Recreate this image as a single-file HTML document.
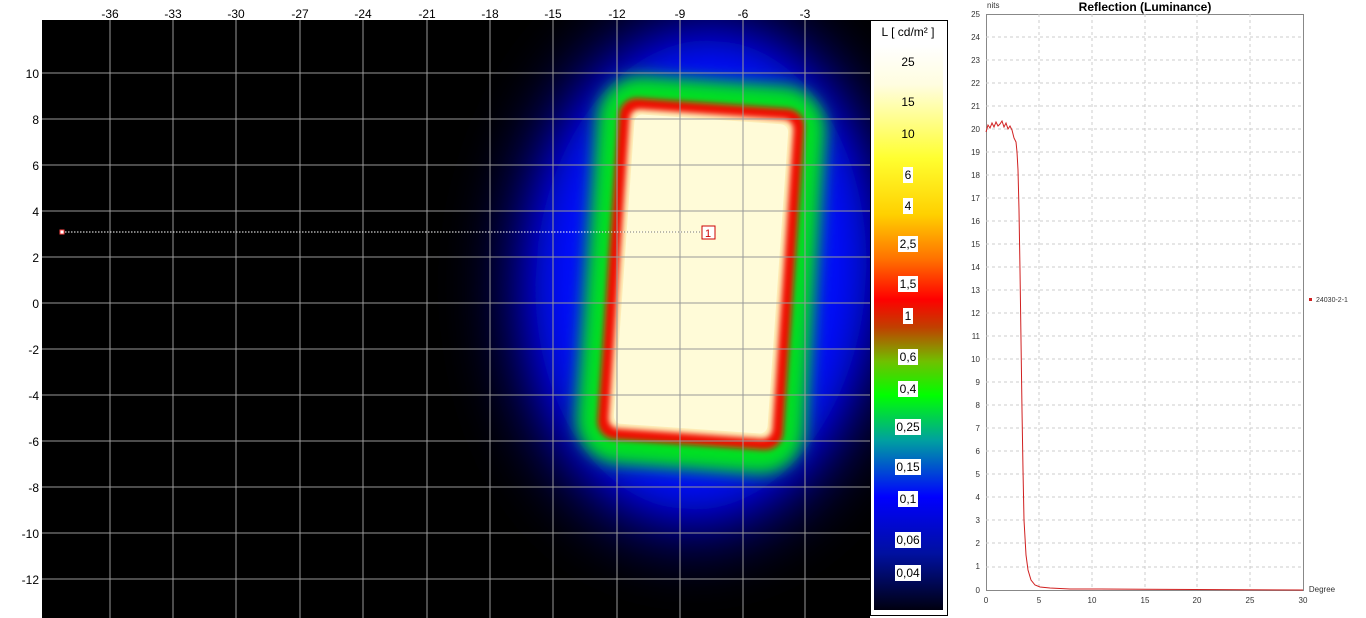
<!DOCTYPE html>
<html><head><style>
body{margin:0;width:1366px;height:618px;background:#fff;overflow:hidden;font-family:"Liberation Sans",sans-serif}
svg{position:absolute;left:0;top:0}
</style></head><body>
<svg width="1366" height="618" viewBox="0 0 1366 618">
<defs>
<filter id="b0" x="-50%" y="-50%" width="200%" height="200%"><feGaussianBlur stdDeviation="30"/></filter>
<filter id="b1" x="-50%" y="-50%" width="200%" height="200%"><feGaussianBlur stdDeviation="22"/></filter>
<filter id="b2" x="-50%" y="-50%" width="200%" height="200%"><feGaussianBlur stdDeviation="8"/></filter>
<filter id="b3" x="-50%" y="-50%" width="200%" height="200%"><feGaussianBlur stdDeviation="3"/></filter>
<linearGradient id="cb" x1="0" y1="0" x2="0" y2="1">
<stop offset="0" stop-color="#ffffff"/>
<stop offset="0.07" stop-color="#fffde0"/>
<stop offset="0.2" stop-color="#ffff30"/>
<stop offset="0.3" stop-color="#ffd000"/>
<stop offset="0.38" stop-color="#ff7000"/>
<stop offset="0.45" stop-color="#ff0000"/>
<stop offset="0.5" stop-color="#c04000"/>
<stop offset="0.56" stop-color="#70c000"/>
<stop offset="0.62" stop-color="#00ff00"/>
<stop offset="0.7" stop-color="#00a0a0"/>
<stop offset="0.8" stop-color="#0000ff"/>
<stop offset="0.9" stop-color="#0010a0"/>
<stop offset="1" stop-color="#000010"/>
</linearGradient>
<clipPath id="ic"><rect x="42" y="20" width="828" height="598"/></clipPath>
</defs>
<rect x="42" y="20" width="828" height="598" fill="#000"/>
<g clip-path="url(#ic)">
<g transform="rotate(4 701 274)">
<ellipse cx="701" cy="275" rx="200" ry="275" fill="#000080" filter="url(#b0)"/>
<ellipse cx="701" cy="275" rx="165" ry="235" fill="#0010ff" filter="url(#b1)"/>
<rect x="586" y="80" width="230" height="390" rx="45" fill="#00e020" filter="url(#b2)"/>
<rect x="608" y="103" width="186" height="342" rx="18" fill="#f01000" filter="url(#b3)"/>
<rect x="619" y="114" width="164" height="320" rx="10" fill="#fff8c0" filter="url(#b3)"/>
<rect x="624" y="119" width="154" height="310" rx="8" fill="#fffbd8"/>
</g>
<g stroke="#999" stroke-width="1">
<line x1="110" y1="20" x2="110" y2="618"/><line x1="173" y1="20" x2="173" y2="618"/><line x1="236" y1="20" x2="236" y2="618"/><line x1="300" y1="20" x2="300" y2="618"/><line x1="363" y1="20" x2="363" y2="618"/><line x1="427" y1="20" x2="427" y2="618"/><line x1="490" y1="20" x2="490" y2="618"/><line x1="553" y1="20" x2="553" y2="618"/><line x1="617" y1="20" x2="617" y2="618"/><line x1="680" y1="20" x2="680" y2="618"/><line x1="743" y1="20" x2="743" y2="618"/><line x1="805" y1="20" x2="805" y2="618"/>
<line x1="42" y1="73" x2="870" y2="73"/><line x1="42" y1="119" x2="870" y2="119"/><line x1="42" y1="165" x2="870" y2="165"/><line x1="42" y1="211" x2="870" y2="211"/><line x1="42" y1="257" x2="870" y2="257"/><line x1="42" y1="303" x2="870" y2="303"/><line x1="42" y1="349" x2="870" y2="349"/><line x1="42" y1="395" x2="870" y2="395"/><line x1="42" y1="441" x2="870" y2="441"/><line x1="42" y1="487" x2="870" y2="487"/><line x1="42" y1="533" x2="870" y2="533"/><line x1="42" y1="579" x2="870" y2="579"/>
</g>
<line x1="62" y1="232" x2="700" y2="232" stroke="#fff" stroke-dasharray="1.5,1.5"/>
<line x1="600" y1="232" x2="700" y2="232" stroke="#777" stroke-dasharray="1,2"/>
<rect x="60" y="230" width="4" height="4" fill="#fff" stroke="#f44"/>
<rect x="702" y="226" width="13" height="13" fill="#fff" stroke="#c00"/>
<text x="705" y="237" font-size="11" fill="#c00">1</text>
</g>
<g font-size="12" fill="#000" text-anchor="middle">
<text x="110" y="18">-36</text><text x="173" y="18">-33</text><text x="236" y="18">-30</text><text x="300" y="18">-27</text><text x="363" y="18">-24</text><text x="427" y="18">-21</text><text x="490" y="18">-18</text><text x="553" y="18">-15</text><text x="617" y="18">-12</text><text x="680" y="18">-9</text><text x="743" y="18">-6</text><text x="805" y="18">-3</text>
</g>
<g font-size="12" fill="#000" text-anchor="end">
<text x="39" y="78">10</text><text x="39" y="124">8</text><text x="39" y="170">6</text><text x="39" y="216">4</text><text x="39" y="262">2</text><text x="39" y="308">0</text><text x="39" y="354">-2</text><text x="39" y="400">-4</text><text x="39" y="446">-6</text><text x="39" y="492">-8</text><text x="39" y="538">-10</text><text x="39" y="584">-12</text>
</g>
<rect x="870.5" y="20.5" width="77" height="595" fill="#fff" stroke="#000"/>
<rect x="874" y="45" width="69" height="565" fill="url(#cb)"/>
<text x="908" y="36" font-size="12" text-anchor="middle">L [ cd/m² ]</text>
<g fill="#fff">
<rect x="903" y="167" width="10" height="16"/><rect x="903" y="198" width="10" height="16"/><rect x="898" y="236" width="20" height="16"/><rect x="898" y="276" width="20" height="16"/><rect x="903" y="308" width="10" height="16"/><rect x="898" y="349" width="20" height="16"/><rect x="898" y="381" width="20" height="16"/><rect x="895" y="419" width="26" height="16"/><rect x="895" y="459" width="26" height="16"/><rect x="898" y="491" width="20" height="16"/><rect x="895" y="532" width="26" height="16"/><rect x="895" y="565" width="26" height="16"/>
</g>
<g font-size="12" text-anchor="middle">
<text x="908" y="66">25</text><text x="908" y="106">15</text><text x="908" y="138">10</text><text x="908" y="179">6</text><text x="908" y="210">4</text><text x="908" y="248">2,5</text><text x="908" y="288">1,5</text><text x="908" y="320">1</text><text x="908" y="361">0,6</text><text x="908" y="393">0,4</text><text x="908" y="431">0,25</text><text x="908" y="471">0,15</text><text x="908" y="503">0,1</text><text x="908" y="544">0,06</text><text x="908" y="577">0,04</text>
</g>
<text x="1145" y="11" font-size="12" font-weight="bold" text-anchor="middle">Reflection (Luminance)</text>
<rect x="986.5" y="14.5" width="317" height="576" fill="#fff" stroke="#888"/>
<g stroke="#ccc" stroke-dasharray="3,3">
<line x1="1039" y1="14" x2="1039" y2="590"/><line x1="1092" y1="14" x2="1092" y2="590"/><line x1="1145" y1="14" x2="1145" y2="590"/><line x1="1197" y1="14" x2="1197" y2="590"/><line x1="1250" y1="14" x2="1250" y2="590"/>
<line x1="986" y1="37" x2="1303" y2="37"/><line x1="986" y1="60" x2="1303" y2="60"/><line x1="986" y1="83" x2="1303" y2="83"/><line x1="986" y1="106" x2="1303" y2="106"/><line x1="986" y1="129" x2="1303" y2="129"/><line x1="986" y1="152" x2="1303" y2="152"/><line x1="986" y1="175" x2="1303" y2="175"/><line x1="986" y1="198" x2="1303" y2="198"/><line x1="986" y1="221" x2="1303" y2="221"/><line x1="986" y1="244" x2="1303" y2="244"/><line x1="986" y1="267" x2="1303" y2="267"/><line x1="986" y1="290" x2="1303" y2="290"/><line x1="986" y1="313" x2="1303" y2="313"/><line x1="986" y1="336" x2="1303" y2="336"/><line x1="986" y1="359" x2="1303" y2="359"/><line x1="986" y1="382" x2="1303" y2="382"/><line x1="986" y1="405" x2="1303" y2="405"/><line x1="986" y1="428" x2="1303" y2="428"/><line x1="986" y1="451" x2="1303" y2="451"/><line x1="986" y1="474" x2="1303" y2="474"/><line x1="986" y1="497" x2="1303" y2="497"/><line x1="986" y1="520" x2="1303" y2="520"/><line x1="986" y1="543" x2="1303" y2="543"/><line x1="986" y1="567" x2="1303" y2="567"/>
</g>
<g font-size="8" fill="#333" text-anchor="end">
<text x="980" y="17">25</text><text x="980" y="40">24</text><text x="980" y="63">23</text><text x="980" y="86">22</text><text x="980" y="109">21</text><text x="980" y="132">20</text><text x="980" y="155">19</text><text x="980" y="178">18</text><text x="980" y="201">17</text><text x="980" y="224">16</text><text x="980" y="247">15</text><text x="980" y="270">14</text><text x="980" y="293">13</text><text x="980" y="316">12</text><text x="980" y="339">11</text><text x="980" y="362">10</text><text x="980" y="385">9</text><text x="980" y="408">8</text><text x="980" y="431">7</text><text x="980" y="454">6</text><text x="980" y="477">5</text><text x="980" y="500">4</text><text x="980" y="523">3</text><text x="980" y="546">2</text><text x="980" y="569">1</text><text x="980" y="593">0</text>
</g>
<text x="987" y="8" font-size="8" fill="#333">nits</text>
<g font-size="8" fill="#333" text-anchor="middle">
<text x="986" y="603">0</text><text x="1039" y="603">5</text><text x="1092" y="603">10</text><text x="1145" y="603">15</text><text x="1197" y="603">20</text><text x="1250" y="603">25</text><text x="1303" y="603">30</text>
</g>
<text x="1322" y="592" font-size="8" fill="#333" text-anchor="middle">Degree</text>
<polyline fill="none" stroke="#d02020" stroke-width="1" points="986,132 988,125 990,128 992,123 994,127 996,122 998,126 1000,124 1002,121 1004,127 1006,123 1008,129 1010,126 1012,130 1014,138 1016,142 1017,152 1018,170 1019,210 1020,270 1021,340 1022,410 1023,470 1024,520 1026,555 1028,570 1031,580 1035,585 1040,587 1050,588 1070,589 1100,589 1303,590"/>
<rect x="1309" y="298" width="3" height="3" fill="#d02020"/>
<text x="1316" y="302" font-size="7" fill="#333">24030-2-1</text>
</svg>
</body></html>
